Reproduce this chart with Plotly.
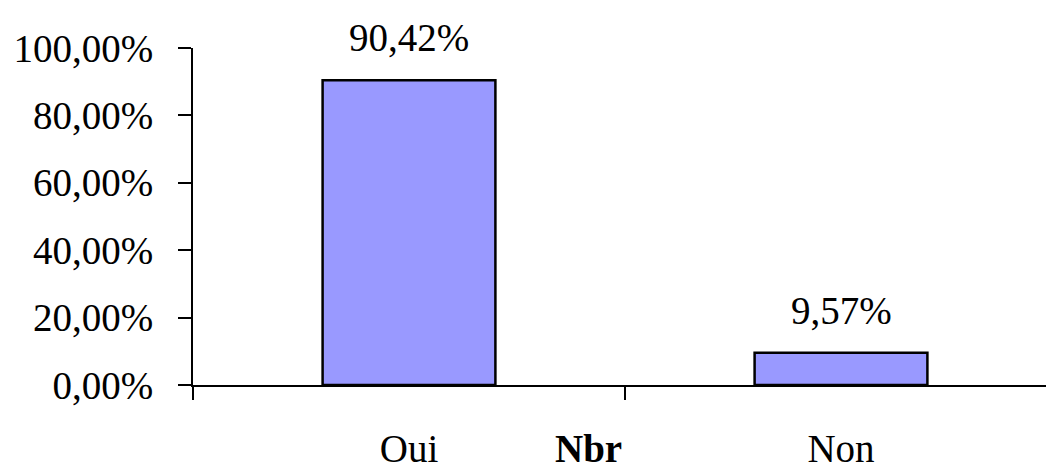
import plotly.graph_objects as go

categories = ["Oui", "Non"]
values = [0.9042, 0.0957]
value_labels = ["90,42%", "9,57%"]
y_ticks = [0, 0.2, 0.4, 0.6, 0.8, 1.0]
x_title = "Nbr"

FONT = "Liberation Serif, Times New Roman, serif"
FS = 39

fig = go.Figure()
fig.add_trace(go.Bar(
    x=categories, y=values, width=0.4,
    marker=dict(color="#9999FF", line=dict(color="black", width=2.5)),
    hoverinfo="skip",
))

for c, v, t in zip(categories, values, value_labels):
    fig.add_annotation(x=c, y=v, text=t, showarrow=False, yanchor="bottom",
                       yshift=19, font=dict(family=FONT, size=FS, color="black"))

fig.add_annotation(xref="paper", yref="paper", x=(588 - 193) / (1046 - 193), y=-(472 - 385) / 337,
                   text="<b>" + x_title + "</b>", showarrow=False, xanchor="center", yanchor="bottom",
                   font=dict(family=FONT, size=FS, color="black"))

fig.update_layout(
    width=1046, height=473,
    margin=dict(l=193, r=0, t=48, b=88, autoexpand=False),
    plot_bgcolor="white", paper_bgcolor="white",
    separators=", ",
    showlegend=False,
    font=dict(family=FONT, size=FS, color="black"),
)
fig.update_xaxes(
    type="category", range=[-0.5, -0.5 + 853 / 432],
    showline=True, linecolor="black", linewidth=2,
    ticks="outside", ticklen=13, tickwidth=2, tickcolor="black",
    tickson="boundaries", showgrid=False, zeroline=False,
    ticklabelstandoff=28, automargin=False,
    tickfont=dict(family=FONT, size=FS, color="black"),
)
fig.update_yaxes(
    range=[0, 1], tickvals=y_ticks, tickformat=".2%",
    showline=True, linecolor="black", linewidth=2,
    ticks="outside", ticklen=13, tickwidth=2, tickcolor="black",
    showgrid=False, zeroline=False,
    ticklabelstandoff=17, automargin=False,
    tickfont=dict(family=FONT, size=FS, color="black"),
)

fig.write_html("out.html", config={"displayModeBar": False},
               post_script="document.body.style.margin='0';document.body.style.overflow='hidden';")
